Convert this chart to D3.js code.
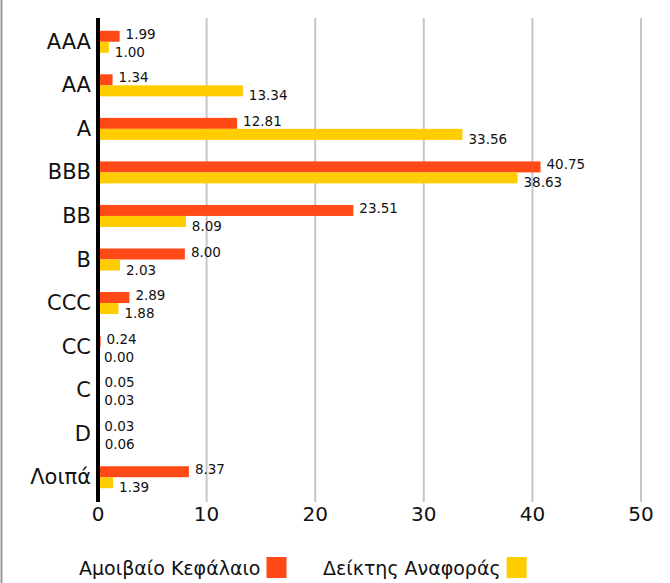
<!DOCTYPE html>
<html>
<head>
<meta charset="utf-8">
<script src="https://cdn.jsdelivr.net/npm/d3@7"></script>
<style>
  body { margin: 0; background: #fff; }
  text { font-family: "DejaVu Sans", sans-serif; fill: #111; }
</style>
</head>
<body>
<div class="chart"></div>
<script>
// Chart data
var categories = ["AAA", "AA", "A", "BBB", "BB", "B", "CCC", "CC", "C", "D", "Λοιπά"];
var fundValues = [1.99, 1.34, 12.81, 40.75, 23.51, 8.00, 2.89, 0.24, 0.05, 0.03, 8.37];
var indexValues = [1.00, 13.34, 33.56, 38.63, 8.09, 2.03, 1.88, 0.00, 0.03, 0.06, 1.39];
var seriesNames = ["Αμοιβαίο Κεφάλαιο", "Δείκτης Αναφοράς"];
var xTicks = [0, 10, 20, 30, 40, 50];

var svgWidth = 670;
var svgHeight = 583;
var colors = ["#ff4a17", "#ffcc00"];

var svg = d3.select(".chart")
  .append("svg")
  .attr("width", svgWidth)
  .attr("height", svgHeight);

// Scales
var xScale = d3.scaleLinear()
  .domain([0, 50])
  .range([98, 641]);

var yScale = d3.scaleBand()
  .domain(categories)
  .range([20, 499]);

var barH = 11;

// left frame line
svg.append("line")
  .attr("x1", 1.5).attr("x2", 1.5)
  .attr("y1", 0).attr("y2", svgHeight)
  .attr("stroke", "#9a9a9a")
  .attr("stroke-width", 2);

// Gridlines
svg.selectAll(".grid")
  .data(xTicks.slice(1))
  .enter()
  .append("line")
  .attr("class", "grid")
  .attr("x1", d => xScale(d))
  .attr("x2", d => xScale(d))
  .attr("y1", 18)
  .attr("y2", 502)
  .attr("stroke", "#c6c6c6")
  .attr("stroke-width", 2);

// Bars + value labels
var rows = categories.map((c, i) => ({ cat: c, vals: [fundValues[i], indexValues[i]] }));

rows.forEach(function (row) {
  var cy = yScale(row.cat) + yScale.bandwidth() / 2;
  row.vals.forEach(function (v, j) {
    var y0 = j === 0 ? cy - barH : cy;
    svg.append("rect")
      .attr("x", xScale(0))
      .attr("y", y0)
      .attr("width", xScale(v) - xScale(0))
      .attr("height", barH)
      .attr("fill", colors[j]);

    svg.append("text")
      .attr("x", xScale(v) + 6)
      .attr("y", j === 0 ? cy - 3 : cy + 15)
      .attr("font-size", "13.5px")
      .text(v.toFixed(2));
  });
});

// Axis line
svg.append("line")
  .attr("x1", 98).attr("x2", 98)
  .attr("y1", 18).attr("y2", 502)
  .attr("stroke", "#000")
  .attr("stroke-width", 4);

// Category labels
svg.selectAll(".cat")
  .data(categories)
  .enter()
  .append("text")
  .attr("class", "cat")
  .attr("x", 91)
  .attr("y", d => yScale(d) + yScale.bandwidth() / 2 + 7)
  .attr("text-anchor", "end")
  .attr("font-size", "21px")
  .text(d => d);

// X tick labels
svg.selectAll(".xtick")
  .data(xTicks)
  .enter()
  .append("text")
  .attr("class", "xtick")
  .attr("x", d => xScale(d))
  .attr("y", 521)
  .attr("text-anchor", "middle")
  .attr("font-size", "20px")
  .text(d => d);

// Legend
var legendX = [79, 323];
seriesNames.forEach(function (name, i) {
  var t = svg.append("text")
    .attr("x", legendX[i])
    .attr("y", 575)
    .attr("font-size", "19px")
    .text(name);
  var w = t.node().getComputedTextLength();
  svg.append("rect")
    .attr("x", legendX[i] + w + 6)
    .attr("y", 557)
    .attr("width", 20)
    .attr("height", 21)
    .attr("fill", colors[i]);
});
</script>
</body>
</html>
